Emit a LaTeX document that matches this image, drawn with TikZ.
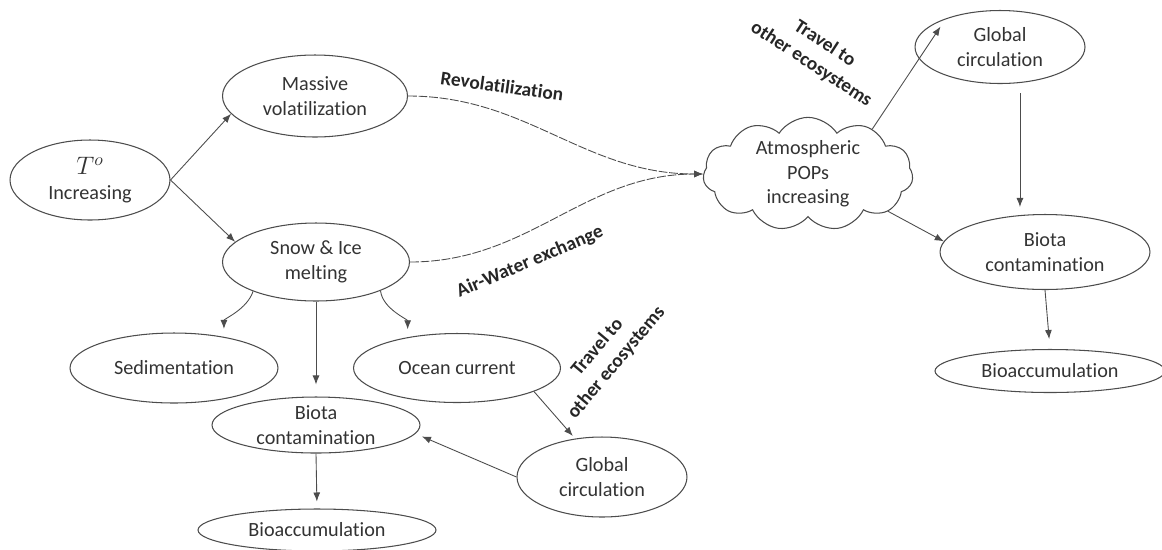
\documentclass[tikz,border=0pt]{standalone}
\usepackage{fontspec}
\setmainfont{Carlito}[Ligatures=NoCommon]
\usetikzlibrary{shapes.geometric, shapes.symbols, arrows.meta}

\tikzset{
  bubble/.style={ellipse, draw=black!70, line width=0.6pt, inner sep=0pt, align=center,
    text=black!80, font=\fontsize{11.5}{14}\selectfont},
  puff/.style={cloud, cloud puffs=11, cloud puff arc=115, cloud ignores aspect, draw=black!70,
    line width=0.6pt, inner sep=0pt, align=center, text=black!80, font=\fontsize{11.5}{14}\selectfont},
  link/.style={-{Latex[length=1.8mm,width=1.4mm]}, draw=black!70, line width=0.5pt},
  airflow/.style={dash pattern=on 5pt off 1pt},
  tag/.style={font=\bfseries\fontsize{11}{14}\selectfont, text=black!85, align=center},
}

\begin{document}
\begin{tikzpicture}[x=0.02cm, y=-0.02cm]
        \useasboundingbox (0,0) rectangle (1162,549);

        % Left branch
        \node[bubble, minimum width=3.2cm, minimum height=1.6cm] (tinc) at (90,180)
            {{\fontsize{14}{16}\selectfont $T^{o}$}\\Increasing};
        \node[bubble, minimum width=3.7cm, minimum height=1.64cm] (mvol) at (315,96) {Massive\\volatilization};
        \node[bubble, minimum width=3.74cm, minimum height=1.56cm] (snow) at (316,262) {Snow \& Ice\\melting};
        \node[bubble, minimum width=4.16cm, minimum height=1.4cm] (sedi) at (174,368) {Sedimentation};
        \node[bubble, minimum width=4.14cm, minimum height=1.38cm] (ocean) at (457,368) {Ocean current};
        \node[bubble, minimum width=4.16cm, minimum height=1.12cm, inner ysep=-3pt] (bleft) at (316,425) {Biota\\contamination};
        \node[bubble, minimum width=4.76cm, minimum height=0.84cm] (bacl) at (317,530) {Bioaccumulation};
        \node[bubble, minimum width=3.4cm, minimum height=1.6cm] (gleft) at (602,477) {Global\\circulation};

        % Right branch
        \node[puff, minimum width=4.2cm, minimum height=1.84cm] (atm) at (808,174) {Atmospheric\\POPs\\increasing};
        \node[bubble, minimum width=3.4cm, minimum height=1.46cm] (gright) at (1000,47) {Global\\circulation};
        \node[bubble, minimum width=4.2cm, minimum height=1.5cm] (bright) at (1045,252) {Biota\\contamination};
        \node[bubble, minimum width=4.6cm, minimum height=0.86cm] (bacr) at (1050,371) {Bioaccumulation};

        % Labels on the paths
        \node[tag, rotate=-8] (revol) at (502,86) {Revolatilization};
        \node[tag, rotate=23] (airw) at (530,262) {Air-Water exchange};
        \node[tag, rotate=50] (trvl) at (607,355) {Travel to\\other ecosystems};
        \node[tag, rotate=-33] (trvr) at (818,54) {Travel to\\other ecosystems};

        % Arrows
        \draw[link] (tinc.east) -- (mvol.192);
        \draw[link] (tinc.east) -- (snow.166);
        \draw[link, airflow] (mvol.east) to[out=0, in=180] (atm.west);
        \draw[link, airflow] (snow.east) to[out=0, in=180] (atm.west);
        \draw[link, shorten >=4.5pt] (snow.205) .. controls +(-6,18) and +(0,-18) .. (sedi.32);
        \draw[link, shorten >=4.5pt] (snow.-24) .. controls +(2,18) and +(0,-18) .. (ocean.148);
        \draw[link, shorten >=0.24cm] (snow.south) -- (bleft.north);
        \draw[link, shorten >=0.14cm] (bleft.south) -- (bacl.north);
        \draw[link, shorten >=2pt] (ocean.-17) -- (gleft.125);
        \draw[link, shorten >=0.14cm] (gleft.west) -- (bleft.-5);
        \draw[link, shorten >=0.2cm] (atm.35) -- (gright.152);
        \draw[link] (atm.-25) -- (bright.174);
        \draw[link, shorten <=0.2cm, shorten >=0.14cm] (gright.-61) -- (gright.-61 |- bright.north);
        \draw[link, shorten >=0.2cm] (bright.south) -- (bacr.north);
\end{tikzpicture}
\end{document}
